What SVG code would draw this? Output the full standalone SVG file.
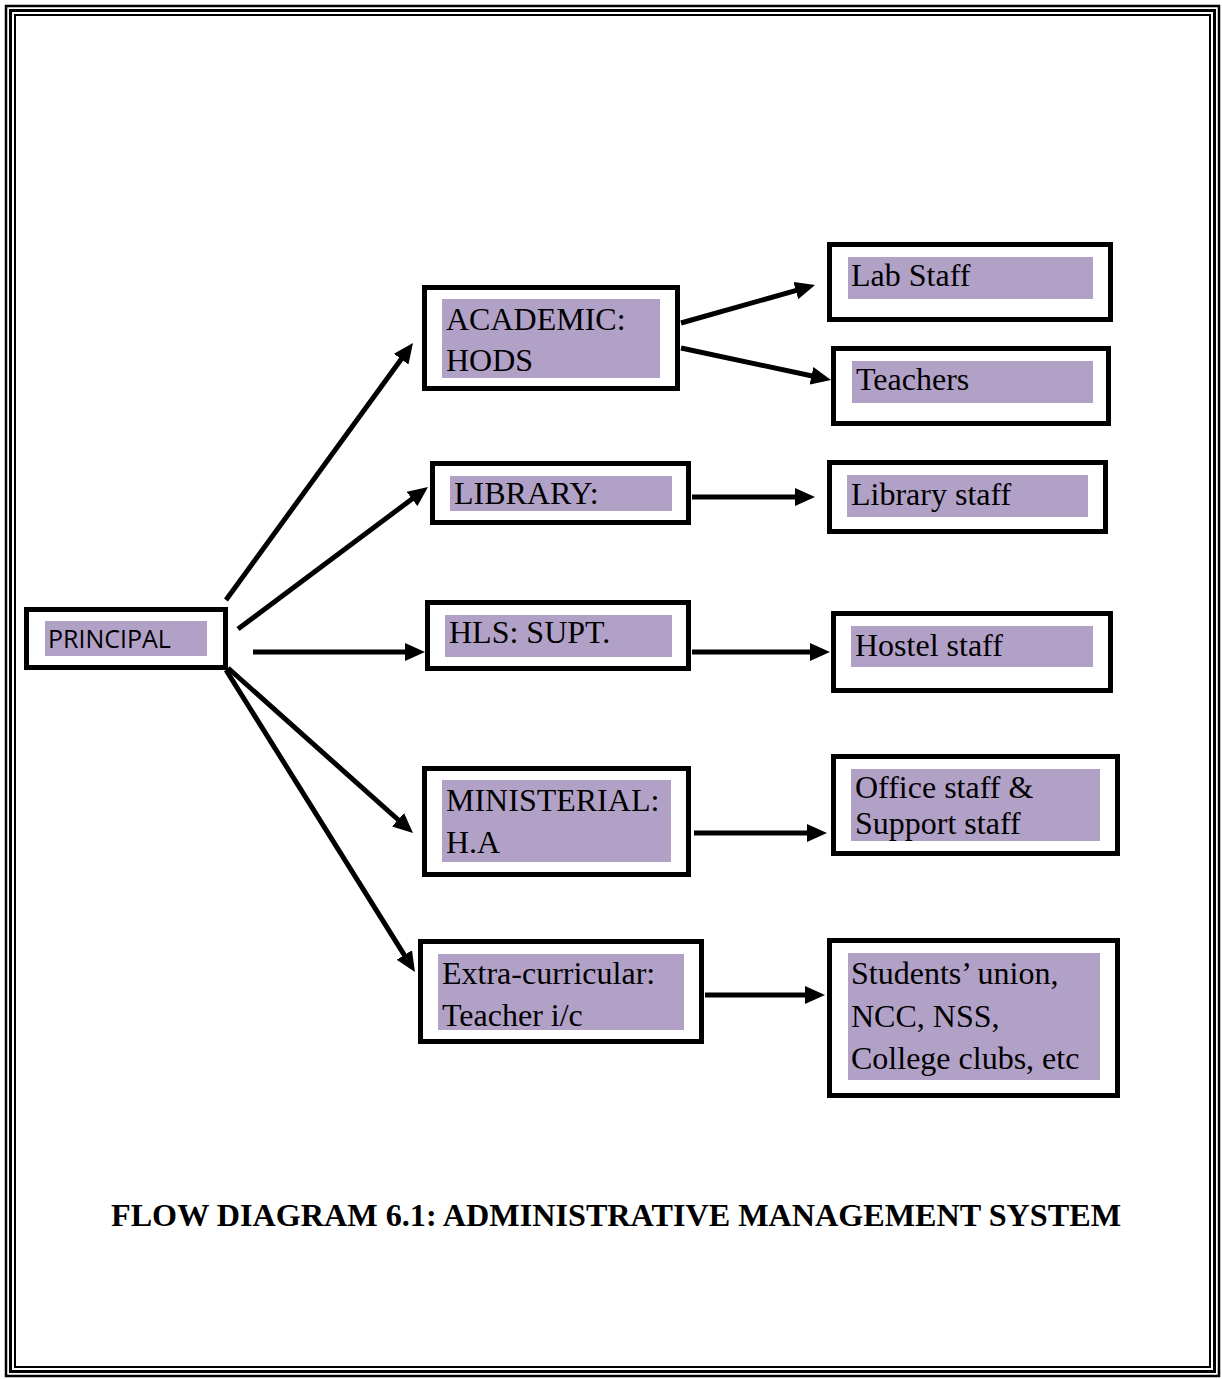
<svg xmlns="http://www.w3.org/2000/svg" width="1222" height="1379" viewBox="0 0 1222 1379">
<style>
.box{fill:#ffffff;stroke:#000;stroke-width:5}
.fill{fill:#b2a1c7}
.t{font-family:"Liberation Serif","Times New Roman",serif;font-size:32px;fill:#000}
.s{font-family:"Open Sans","Liberation Sans",sans-serif;font-size:25px;fill:#000}
.c{stroke:#000;stroke-width:5;fill:none;marker-end:url(#ah)}
.frame{fill:none;stroke:#000}
</style>
<defs>
<marker id="ah" markerUnits="userSpaceOnUse" markerWidth="20" markerHeight="18" refX="8" refY="9" orient="auto">
<path d="M0,0 L20,9 L0,18 z" fill="#000"/>
</marker>
</defs>
<rect width="1222" height="1379" fill="#fff"/>
<g id="frame">
<rect class="frame" x="6" y="6" width="1213" height="1370" stroke-width="2.5"/>
<rect class="frame" x="10.5" y="10.5" width="1204" height="1361" stroke-width="3"/>
<rect class="frame" x="15" y="15" width="1195" height="1352" stroke-width="2"/>
</g>
<g id="connectors">
<line class="c" x1="226" y1="600" x2="405.9" y2="352.7"/>
<line class="c" x1="238" y1="629" x2="418.4" y2="494.2"/>
<line class="c" x1="253" y1="652" x2="413" y2="652"/>
<line class="c" x1="228" y1="668" x2="404" y2="825"/>
<line class="c" x1="226" y1="670" x2="408.6" y2="961.8"/>
<line class="c" x1="681" y1="323" x2="803.5" y2="288.3"/>
<line class="c" x1="681" y1="348" x2="819.3" y2="377.5"/>
<line class="c" x1="692" y1="497" x2="803" y2="497"/>
<line class="c" x1="692" y1="652" x2="818" y2="652"/>
<line class="c" x1="694" y1="833" x2="815" y2="833"/>
<line class="c" x1="705" y1="995" x2="813" y2="995"/>
</g>
<g id="principal">
<rect class="box" x="26.5" y="609.5" width="199" height="58"/>
<rect class="fill" x="45" y="621" width="162" height="35"/>
<text class="s" x="48" y="648">PRINCIPAL</text>
</g>
<g id="academic">
<rect class="box" x="424.5" y="287.5" width="253" height="101"/>
<rect class="fill" x="442" y="299" width="218" height="79"/>
<text class="t" x="446" y="330">ACADEMIC:</text>
<text class="t" x="446" y="371">HODS</text>
</g>
<g id="library">
<rect class="box" x="432.5" y="463.5" width="256" height="59"/>
<rect class="fill" x="450" y="476" width="222" height="35"/>
<text class="t" x="454" y="504">LIBRARY:</text>
</g>
<g id="hls">
<rect class="box" x="427.5" y="602.5" width="261" height="66"/>
<rect class="fill" x="445" y="615" width="227" height="42"/>
<text class="t" x="449" y="643">HLS: SUPT.</text>
</g>
<g id="ministerial">
<rect class="box" x="424.5" y="768.5" width="264" height="106"/>
<rect class="fill" x="442" y="780" width="229" height="82"/>
<text class="t" x="446" y="811">MINISTERIAL:</text>
<text class="t" x="446" y="853">H.A</text>
</g>
<g id="extra">
<rect class="box" x="420.5" y="941.5" width="281" height="100"/>
<rect class="fill" x="438" y="954" width="246" height="76"/>
<text class="t" x="442" y="984">Extra-curricular:</text>
<text class="t" x="442" y="1026">Teacher i/c</text>
</g>
<g id="lab">
<rect class="box" x="829.5" y="244.5" width="281" height="75"/>
<rect class="fill" x="848" y="257" width="245" height="42"/>
<text class="t" x="851" y="286">Lab Staff</text>
</g>
<g id="teachers">
<rect class="box" x="833.5" y="348.5" width="275" height="75"/>
<rect class="fill" x="852" y="361" width="241" height="42"/>
<text class="t" x="856" y="390">Teachers</text>
</g>
<g id="librarystaff">
<rect class="box" x="829.5" y="462.5" width="276" height="69"/>
<rect class="fill" x="847" y="475" width="241" height="42"/>
<text class="t" x="851" y="505">Library staff</text>
</g>
<g id="hostel">
<rect class="box" x="833.5" y="613.5" width="277" height="77"/>
<rect class="fill" x="851" y="626" width="242" height="41"/>
<text class="t" x="855" y="656">Hostel staff</text>
</g>
<g id="office">
<rect class="box" x="833.5" y="756.5" width="284" height="97"/>
<rect class="fill" x="851" y="769" width="249" height="72"/>
<text class="t" x="855" y="798">Office staff &amp;</text>
<text class="t" x="855" y="834">Support staff</text>
</g>
<g id="students">
<rect class="box" x="829.5" y="940.5" width="288" height="155"/>
<rect class="fill" x="848" y="953" width="252" height="127"/>
<text class="t" x="851" y="984">Students’ union,</text>
<text class="t" x="851" y="1027">NCC, NSS,</text>
<text class="t" x="851" y="1069">College clubs, etc</text>
</g>
<g id="title">
<text x="111" y="1226" font-family="Liberation Serif, Times New Roman, serif" font-weight="bold" font-size="31" textLength="1010" lengthAdjust="spacingAndGlyphs">FLOW DIAGRAM 6.1: ADMINISTRATIVE MANAGEMENT SYSTEM</text>
</g>
</svg>
